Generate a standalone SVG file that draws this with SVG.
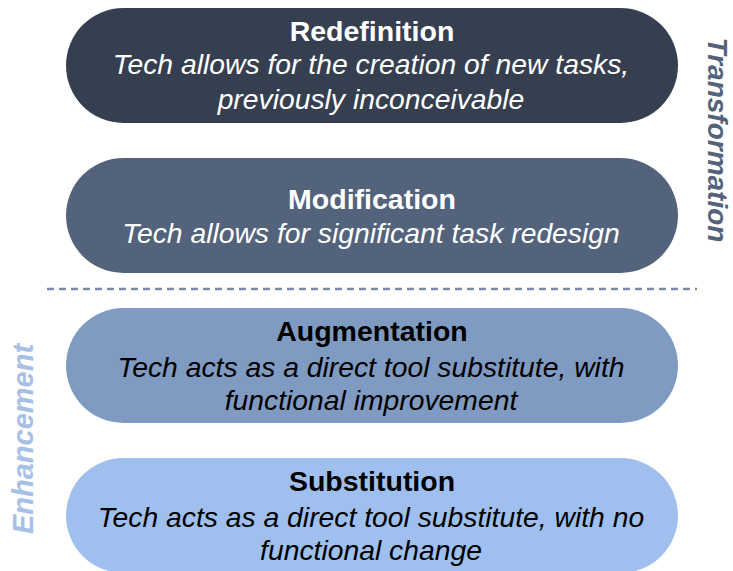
<svg xmlns="http://www.w3.org/2000/svg" width="733" height="571" viewBox="0 0 733 571">
<style>
.t{font-family:"Liberation Sans",Arial,sans-serif;font-weight:bold;font-size:28.5px;text-anchor:middle}
.d{font-family:"Liberation Sans",Arial,sans-serif;font-style:italic;font-size:28.3px;text-anchor:middle}
.w{fill:#ffffff}
.k{fill:#000000}
.side{font-family:"Liberation Sans",Arial,sans-serif;font-weight:bold;font-style:italic;text-anchor:middle}
</style>
<rect width="733" height="571" fill="#ffffff"/>
<g id="connectors">
<line x1="47" y1="289" x2="697" y2="289" stroke="#7b8ba4" stroke-width="2.5" stroke-dasharray="7 5"/>
</g>
<g id="redefinition">
<rect x="66" y="8" width="612" height="115" rx="57.5" fill="#353f4f"/>
<text class="t w" x="372" y="41">Redefinition</text>
<text class="d w" x="371" y="74">Tech allows for the creation of new tasks,</text>
<text class="d w" x="371" y="109">previously inconceivable</text>
</g>
<g id="modification">
<rect x="66" y="158" width="612" height="115" rx="57.5" fill="#53637c"/>
<text class="t w" x="372" y="209">Modification</text>
<text class="d w" x="371" y="243">Tech allows for significant task redesign</text>
</g>
<g id="augmentation">
<rect x="66" y="308" width="612" height="115" rx="57.5" fill="#7f9bc2"/>
<text class="t k" x="372" y="341">Augmentation</text>
<text class="d k" x="371" y="377">Tech acts as a direct tool substitute, with</text>
<text class="d k" x="371" y="410">functional improvement</text>
</g>
<g id="substitution">
<rect x="66" y="458" width="612" height="115" rx="57.5" fill="#9fc0ee"/>
<text class="t k" x="372" y="491">Substitution</text>
<text class="d k" x="371" y="527">Tech acts as a direct tool substitute, with no</text>
<text class="d k" x="371" y="560">functional change</text>
</g>
<g id="transformation">
<text class="side" font-size="28" fill="#53637c" transform="translate(708,140) rotate(90)">Transformation</text>
</g>
<g id="enhancement">
<text class="side" font-size="29" fill="#a7c0e8" transform="translate(33,439) rotate(-90)">Enhancement</text>
</g>
</svg>
